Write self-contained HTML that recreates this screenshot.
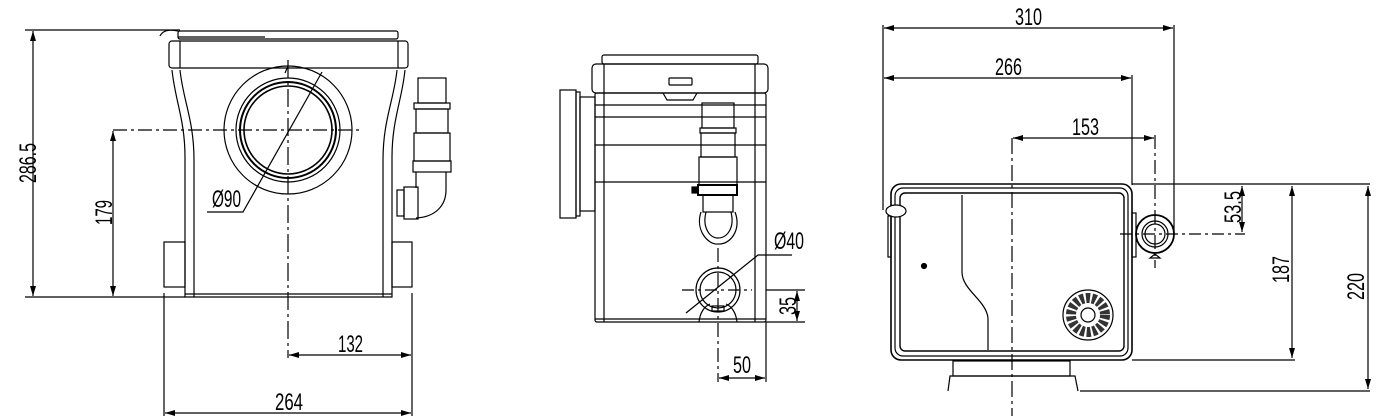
<!DOCTYPE html>
<html><head><meta charset="utf-8"><style>
html,body{margin:0;padding:0;background:#fff;}
svg{display:block;}
text{font-family:"Liberation Sans",sans-serif;font-size:24px;fill:#000;}
</style></head><body>
<svg width="1385" height="416" viewBox="0 0 1385 416" xmlns="http://www.w3.org/2000/svg">
<defs>
<marker id="a" viewBox="0 0 10 6" refX="10" refY="3" markerWidth="10" markerHeight="6" orient="auto-start-reverse" markerUnits="userSpaceOnUse"><path d="M0,0L10,3L0,6z" fill="#000"/></marker>
</defs>
<g fill="none" stroke="#000" stroke-width="1.2">
<line x1="25" y1="30" x2="180" y2="30"/>
<line x1="25" y1="297" x2="185" y2="297"/>
<line x1="33" y1="31" x2="33" y2="296" marker-start="url(#a)" marker-end="url(#a)"/>
<line x1="113" y1="130" x2="362" y2="130" stroke-dasharray="14,4,3,4"/>
<line x1="113" y1="131" x2="113" y2="296" marker-start="url(#a)" marker-end="url(#a)"/>
<line x1="288" y1="60" x2="288" y2="358" stroke-dasharray="18,4,3,4"/>
<line x1="289" y1="355" x2="411" y2="355" marker-start="url(#a)" marker-end="url(#a)"/>
<line x1="164" y1="293" x2="164" y2="416"/>
<line x1="412" y1="293" x2="412" y2="416"/>
<line x1="165" y1="413" x2="411" y2="413" marker-start="url(#a)" marker-end="url(#a)"/>
<rect x="178" y="31" width="220" height="8" rx="2"/>
<line x1="178" y1="37" x2="265" y2="37"/>
<path d="M160,36 q4,-8 18,-5"/>
<rect x="169" y="41" width="239" height="27" rx="3"/>
<line x1="180" y1="41" x2="180" y2="68"/>
<line x1="398" y1="41" x2="398" y2="68"/>
<path d="M172,70 C175,100 185,120 185,157 L185,297 L392,297 L392,157 C392,120 402,100 405,70"/>
<path d="M180,70 C183,100 194,120 194,160 L194,297"/>
<path d="M397,70 C394,100 383,120 383,160 L383,297"/>
<line x1="185" y1="294" x2="392" y2="294"/>
<rect x="164" y="242" width="21" height="45"/>
<rect x="392" y="242" width="20" height="45"/>
<circle cx="288" cy="130" r="64"/>
<circle cx="288" cy="130" r="52"/>
<circle cx="288" cy="130" r="48" stroke-width="2"/>
<circle cx="288" cy="130" r="44" stroke-width="1.6"/>
<path d="M322,72 L243,212 L207,212"/>
<line x1="285" y1="73" x2="288" y2="66"/>
<rect x="418" y="78" width="28" height="25"/>
<rect x="414" y="103" width="36" height="6"/>
<rect x="416" y="109" width="32" height="24"/>
<rect x="414" y="133" width="36" height="28"/>
<rect x="413" y="161" width="38" height="11"/>
<path d="M416,172 L416,188 M446,172 L446,190 C446,205 436,217 416,218"/>
<rect x="404" y="187" width="14" height="32"/>
<rect x="397" y="190" width="7" height="26"/>
<rect x="602" y="55" width="156" height="9" rx="2"/>
<rect x="592" y="64" width="176" height="29" rx="4"/>
<rect x="669" y="78" width="23" height="7" rx="1"/>
<path d="M663,93 L667,100 L693,100 L697,93"/>
<rect x="595" y="93" width="171" height="229" rx="2"/>
<line x1="604" y1="64" x2="604" y2="322"/>
<line x1="755" y1="64" x2="755" y2="322"/>
<line x1="595" y1="105" x2="766" y2="105"/>
<line x1="595" y1="117" x2="766" y2="117"/>
<line x1="595" y1="145" x2="766" y2="145"/>
<line x1="595" y1="182" x2="766" y2="182"/>
<line x1="595" y1="319" x2="766" y2="319"/>
<rect x="560" y="90" width="16" height="128"/>
<rect x="576" y="92" width="4" height="124"/>
<rect x="580" y="97" width="15" height="114"/>
<rect x="702" y="103" width="32" height="25"/>
<rect x="700" y="128" width="36" height="5"/>
<rect x="701" y="133" width="34" height="24"/>
<rect x="699" y="157" width="38" height="28"/>
<rect x="698" y="185" width="39" height="10" stroke-width="2"/>
<rect x="692" y="187" width="6" height="6" fill="#000"/>
<rect x="703" y="195" width="30" height="17"/>
<path d="M701,212 C695,230 708,245 718,244 C730,245 742,230 735,212"/>
<path d="M706,212 C702,228 710,238 718,238 C727,238 735,228 731,212"/>
<circle cx="718" cy="290" r="22"/>
<circle cx="718" cy="290" r="18"/>
<path d="M699,322 C700,312 705,306 710,304 M737,322 C736,312 731,306 726,304"/>
<rect x="712" y="306" width="12" height="5"/>
<line x1="682" y1="290" x2="752" y2="290" stroke-dasharray="12,4,3,4"/>
<line x1="718" y1="248" x2="718" y2="382" stroke-dasharray="14,4,3,4"/>
<line x1="766" y1="290" x2="805" y2="290"/>
<line x1="766" y1="322" x2="805" y2="322"/>
<line x1="797" y1="291" x2="797" y2="321" marker-start="url(#a)" marker-end="url(#a)"/>
<line x1="766" y1="322" x2="766" y2="382"/>
<line x1="719" y1="378" x2="765" y2="378" marker-start="url(#a)" marker-end="url(#a)"/>
<path d="M686,313 L758,255 L792,255"/>
<line x1="883" y1="25" x2="883" y2="210"/>
<line x1="1174" y1="25" x2="1174" y2="233"/>
<line x1="884" y1="28" x2="1173" y2="28" marker-start="url(#a)" marker-end="url(#a)"/>
<line x1="1132" y1="75" x2="1132" y2="185"/>
<line x1="884" y1="78" x2="1131" y2="78" marker-start="url(#a)" marker-end="url(#a)"/>
<line x1="1155" y1="135" x2="1155" y2="268" stroke-dasharray="14,4,3,4"/>
<line x1="1013" y1="138" x2="1154" y2="138" marker-start="url(#a)" marker-end="url(#a)"/>
<line x1="1012" y1="138" x2="1012" y2="416" stroke-dasharray="16,4,3,4"/>
<rect x="891" y="184" width="241" height="176" rx="10" stroke-width="1.6"/>
<rect x="895" y="188" width="233" height="168" rx="8"/>
<rect x="900" y="193" width="224" height="158" rx="5" stroke-width="1.4"/>
<path d="M962,195 L962,272 C962,290 986,300 988,318 L988,350"/>
<circle cx="924" cy="266" r="2.5" fill="#000"/>
<ellipse cx="896" cy="211" rx="10" ry="6" fill="#fff"/>
<rect x="888" y="216" width="3" height="41"/>
<circle cx="1088" cy="315" r="25"/>
<circle cx="1088" cy="315" r="17" stroke-dasharray="4,2" stroke-width="10" stroke="#333"/>
<circle cx="1088" cy="315" r="7" fill="#fff"/>
<rect x="1132" y="213" width="4" height="44"/>
<circle cx="1155" cy="234" r="19" stroke-width="1.8"/>
<circle cx="1155" cy="234" r="13"/>
<circle cx="1155" cy="234" r="10"/>
<path d="M1150,258 L1160,258 L1155,254z"/>
<line x1="1120" y1="234" x2="1245" y2="234" stroke-dasharray="12,4,3,4"/>
<line x1="1132" y1="184" x2="1370" y2="184"/>
<line x1="1242" y1="186" x2="1242" y2="232" marker-start="url(#a)" marker-end="url(#a)"/>
<line x1="1132" y1="360" x2="1295" y2="360"/>
<line x1="1292" y1="186" x2="1292" y2="358" marker-start="url(#a)" marker-end="url(#a)"/>
<line x1="1080" y1="391" x2="1370" y2="391"/>
<line x1="1368" y1="186" x2="1368" y2="389" marker-start="url(#a)" marker-end="url(#a)"/>
<rect x="953" y="361" width="117" height="15"/>
<path d="M948,391 L950,376 L1075,376 L1078,391"/>
</g>
<text x="8" y="171" transform="rotate(-90 28 163)" textLength="40" lengthAdjust="spacingAndGlyphs">286.5</text>
<text x="92" y="221" transform="rotate(-90 104 213)" textLength="25" lengthAdjust="spacingAndGlyphs">179</text>
<text x="212" y="207" textLength="29" lengthAdjust="spacingAndGlyphs">Ø90</text>
<text x="338" y="352" textLength="25" lengthAdjust="spacingAndGlyphs">132</text>
<text x="275" y="410" textLength="28" lengthAdjust="spacingAndGlyphs">264</text>
<text x="774" y="249" textLength="30" lengthAdjust="spacingAndGlyphs">Ø40</text>
<text x="779" y="314" transform="rotate(-90 788 306)" textLength="18" lengthAdjust="spacingAndGlyphs">35</text>
<text x="733" y="373" textLength="18" lengthAdjust="spacingAndGlyphs">50</text>
<text x="1015" y="25" textLength="27" lengthAdjust="spacingAndGlyphs">310</text>
<text x="995" y="75" textLength="27" lengthAdjust="spacingAndGlyphs">266</text>
<text x="1072" y="135" textLength="27" lengthAdjust="spacingAndGlyphs">153</text>
<text x="1217" y="215" transform="rotate(-90 1233 207)" textLength="32" lengthAdjust="spacingAndGlyphs">53.5</text>
<text x="1268" y="278" transform="rotate(-90 1281 270)" textLength="27" lengthAdjust="spacingAndGlyphs">187</text>
<text x="1343" y="295" transform="rotate(-90 1356 287)" textLength="27" lengthAdjust="spacingAndGlyphs">220</text>
</svg>
</body></html>
